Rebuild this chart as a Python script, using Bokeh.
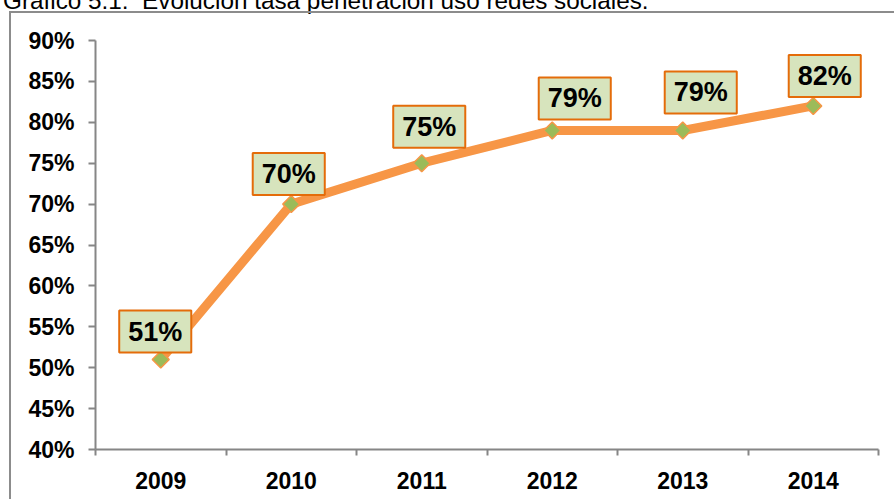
import numpy as np
from bokeh.plotting import figure
from bokeh.layouts import column
from bokeh.models import Range1d, FixedTicker, NumeralTickFormatter, Label, Div
from bokeh.embed import file_html
from bokeh.resources import INLINE

# ---- data ----
years = ["2009", "2010", "2011", "2012", "2013", "2014"]
rates = [0.51, 0.70, 0.75, 0.79, 0.79, 0.82]
rate_labels = ["51%", "70%", "75%", "79%", "79%", "82%"]
y_ticks = [0.40, 0.45, 0.50, 0.55, 0.60, 0.65, 0.70, 0.75, 0.80, 0.85, 0.90]
title_text = "Gráfico 5.1:  Evolución tasa penetración uso redes sociales."

# ---- layout (pixel offsets of the label boxes) ----
label_dx = [-5.5, -2.5, 7.5, 22.5, 18, 11.5]
label_dy = [28, 30, 36.5, 32, 38, 30]

xs = [i + 0.5 for i in range(len(years))]
bounds = list(range(len(years) + 1))

AXIS = "#868686"
FRAME = "#8C8C8C"
FONT = "Liberation Sans"
TOP = 11  # height of the title strip above the chart frame

title_div = Div(
    text=('<div style="position:relative; top:-11px; left:3px; white-space:pre; '
          'font-family:\'Liberation Sans\', Arial, sans-serif; font-size:24.3px; '
          'line-height:24px; color:#000;">' + title_text + '</div>'),
    width=894, height=TOP, margin=0)

p = figure(width=894, height=499 - TOP,
           x_range=Range1d(0, len(years)), y_range=Range1d(y_ticks[0], y_ticks[-1]),
           output_backend="svg", toolbar_location=None,
           min_border_left=95, min_border_right=16, min_border_top=40 - TOP,
           min_border_bottom=50, margin=0)
p.grid.visible = False
p.outline_line_color = None
p.background_fill_color = None
p.border_fill_color = None
# outer chart frame: only its top and left edges fall inside the window
p.styles = {
    "background": (f"linear-gradient({FRAME},{FRAME}) 9px 0px / 2px 100% no-repeat, "
                   f"linear-gradient({FRAME},{FRAME}) 9px 0px / 100% 2px no-repeat"),
}

xa = p.xaxis[0]
ya = p.yaxis[0]
for ax in (xa, ya):
    ax.axis_line_color = AXIS
    ax.axis_line_width = 2
    ax.major_label_text_font = FONT
    ax.major_label_text_font_style = "bold"
    ax.major_label_text_font_size = "23px"
    ax.major_label_text_color = "black"

ya.ticker = FixedTicker(ticks=y_ticks)
ya.formatter = NumeralTickFormatter(format="0%")
ya.major_tick_in = 0
ya.major_tick_out = 7
ya.major_tick_line_color = AXIS
ya.major_tick_line_width = 2
ya.minor_tick_line_color = None
ya.major_label_standoff = 14

xa.ticker = FixedTicker(ticks=xs, minor_ticks=bounds)
xa.major_label_overrides = {x: y for x, y in zip(xs, years)}
xa.major_tick_line_color = None
xa.major_tick_in = 0
xa.major_tick_out = 0
xa.minor_tick_in = 0
xa.minor_tick_out = 6
xa.minor_tick_line_color = AXIS
xa.minor_tick_line_width = 2
xa.major_label_standoff = 16

p.line(xs, rates, line_color="#F79646", line_width=9, line_join="round")
p.scatter(xs, rates, marker="square", size=12, angle=np.pi / 4,
          fill_color="#9BBB59", line_color="#F79646", line_width=1.5)

for x, y, t, dx, dy in zip(xs, rates, rate_labels, label_dx, label_dy):
    p.add_layout(Label(x=x, y=y, text=t, x_offset=dx, y_offset=dy,
                       text_align="center", text_baseline="middle",
                       text_font=FONT, text_font_style="bold",
                       text_font_size="27px", text_color="black",
                       background_fill_color="#D7E4BD",
                       border_line_color="#E46C0A", border_line_width=2,
                       padding=dict(left=9, right=9, top=6, bottom=6)))

layout = column(title_div, p, spacing=0, margin=0)
open("out.html", "w").write(file_html(layout, INLINE))
